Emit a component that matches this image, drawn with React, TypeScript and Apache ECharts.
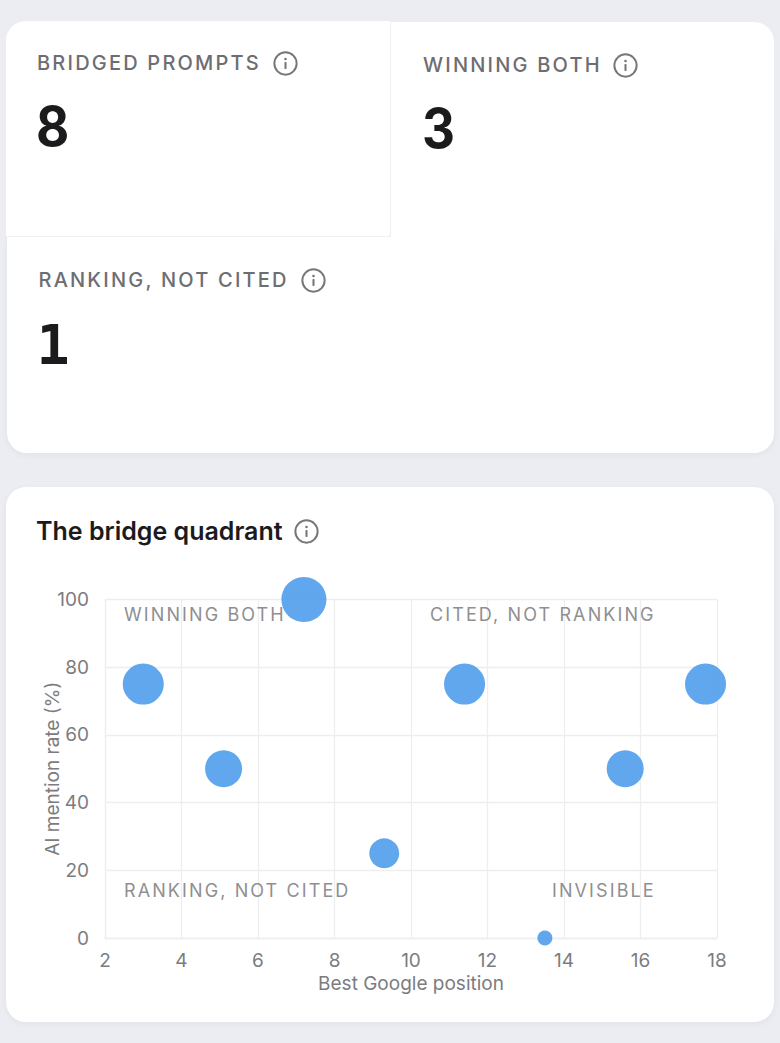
import React, { useEffect, useRef } from "react";
import * as echarts from "echarts";

const kpiLabels = ["BRIDGED PROMPTS", "WINNING BOTH", "RANKING, NOT CITED"];
const kpiValues = ["8", "3", "1"];
const chartTitle = "The bridge quadrant";
const googlePosition = [3, 5.1, 7.2, 9.3, 11.4, 13.5, 15.6, 17.7];
const mentionRate = [75, 50, 100, 25, 75, 0, 50, 75];
const bubbleSize = [41, 37, 45, 30, 41, 15, 37, 41];
const quadrantLabels = ["WINNING BOTH", "CITED, NOT RANKING", "RANKING, NOT CITED", "INVISIBLE"];
const quadrantX = [124, 430, 124, 552];
const quadrantY = [127, 127, 403, 403];

const FONT = "Inter, 'Noto Sans', sans-serif";

function Info({ x, y, size = 25 }: { x: number; y: number; size?: number }) {
  return (
    <svg width={size} height={size} viewBox="0 0 24 24" style={{ position: "absolute", left: x, top: y }}>
      <circle cx="12" cy="12" r="10.7" fill="none" stroke="#77777b" strokeWidth="1.9" />
      <rect x="11" y="10.6" width="2" height="6.6" rx="0.6" fill="#77777b" />
      <circle cx="12" cy="7.7" r="1.25" fill="#77777b" />
    </svg>
  );
}

function Kpi({ x, y, i, iconX, numY, slab }: { x: number; y: number; i: number; iconX: number; numY: number; slab?: boolean }) {
  return (
    <>
      <div
        style={{
          position: "absolute", left: x, top: y, fontFamily: FONT, fontSize: 20, fontWeight: 500,
          letterSpacing: "2.2px", color: "#6d6d72", lineHeight: "26px", whiteSpace: "nowrap",
        }}
      >
        {kpiLabels[i]}
      </div>
      <Info x={iconX} y={y + 0.5} />
      <div
        style={{
          position: "absolute", left: slab ? x - 2 : x - 1, top: numY,
          fontFamily: slab ? "'DejaVu Sans Mono', monospace" : FONT,
          fontSize: 55, fontWeight: 700,
          color: "#1b1b1d", lineHeight: "68px",
          transform: slab ? undefined : "scaleX(0.93)", transformOrigin: "left center",
        }}
      >
        {kpiValues[i]}
      </div>
    </>
  );
}

export default function App() {
  const ref = useRef<HTMLDivElement>(null);

  useEffect(() => {
    document.body.style.margin = "0";
    document.body.style.background = "#ecedf2";
    const chart = echarts.init(ref.current!, null, { renderer: "svg" });
    const axisText = { color: "#7c7c80", fontFamily: FONT, fontSize: 19 };
    const split = { show: true, lineStyle: { color: "#eeeef0", width: 1.3 } };
    const line = { show: true, lineStyle: { color: "#eeeef0", width: 1.3 } };
    chart.setOption({
      animation: false,
      backgroundColor: "transparent",
      grid: { left: 105, right: 63, top: 112.5, height: 338.5, containLabel: false },
      xAxis: {
        type: "value", min: 2, max: 18, interval: 2,
        name: "Best Google position", nameLocation: "middle", nameGap: 35.5, nameMoveOverlap: false,
        nameTextStyle: axisText,
        axisLabel: { ...axisText, margin: 13 },
        axisLine: { ...line, onZero: false }, axisTick: { show: false }, splitLine: split,
      },
      yAxis: {
        type: "value", min: 0, max: 100, interval: 20,
        name: "AI mention rate (%)", nameLocation: "middle", nameGap: 43, nameMoveOverlap: false,
        nameTextStyle: axisText,
        axisLabel: { ...axisText, margin: 16 },
        axisLine: { ...line, onZero: false }, axisTick: { show: false }, splitLine: split,
      },
      graphic: quadrantLabels.map((t, i) => ({
        type: "text", x: quadrantX[i], y: quadrantY[i], z: 1,
        style: { text: t, fill: "#8f8f91", font: `400 18px ${FONT}`, textVerticalAlign: "middle", textAlign: "left" },
      })),
      series: [
        {
          type: "scatter", clip: false, z: 5,
          data: googlePosition.map((x, i) => [x, mentionRate[i], bubbleSize[i]]),
          symbolSize: (v: number[]) => v[2],
          itemStyle: { color: "#4598ea", opacity: 0.85 },
        },
      ],
    });
    return () => chart.dispose();
  }, []);

  const shadow = "0 2px 6px rgba(40,40,60,0.05)";
  return (
    <div style={{ position: "absolute", left: 0, top: 0, width: 780, height: 1043, background: "#ecedf2", overflow: "hidden" }}>
      <style>{`svg text[fill="#8f8f91"]{letter-spacing:2.1px}`}</style>
      <div style={{ position: "absolute", left: 7, top: 237, width: 767, height: 216, background: "#fff", borderRadius: "0 0 20px 20px", boxShadow: shadow }} />
      <div style={{ position: "absolute", left: 391, top: 22, width: 383, height: 216, background: "#fff", borderRadius: "0 20px 0 0" }} />
      <div style={{ position: "absolute", left: 6, top: 21, width: 384, height: 215, background: "#fff", borderRadius: "20px 0 3px 0", borderRight: "1.5px solid #f0f0f3", borderBottom: "1.5px solid #f0f0f3" }} />
      <Kpi x={37} y={50} i={0} iconX={273} numY={92} />
      <Kpi x={423} y={52} i={1} iconX={613} numY={94} />
      <Kpi x={38.5} y={267} i={2} iconX={301} numY={311} slab />

      <div style={{ position: "absolute", left: 6, top: 487, width: 768, height: 535, background: "#fff", borderRadius: 20, boxShadow: shadow }} />
      <div style={{ position: "absolute", left: 36, top: 514, fontFamily: FONT, fontSize: 25, fontWeight: 600, color: "#1b1b1d", lineHeight: "34px", whiteSpace: "nowrap" }}>
        {chartTitle}
      </div>
      <Info x={294} y={518.5} />
      <div ref={ref} style={{ position: "absolute", left: 0, top: 487, width: 780, height: 556 }} />
    </div>
  );
}
